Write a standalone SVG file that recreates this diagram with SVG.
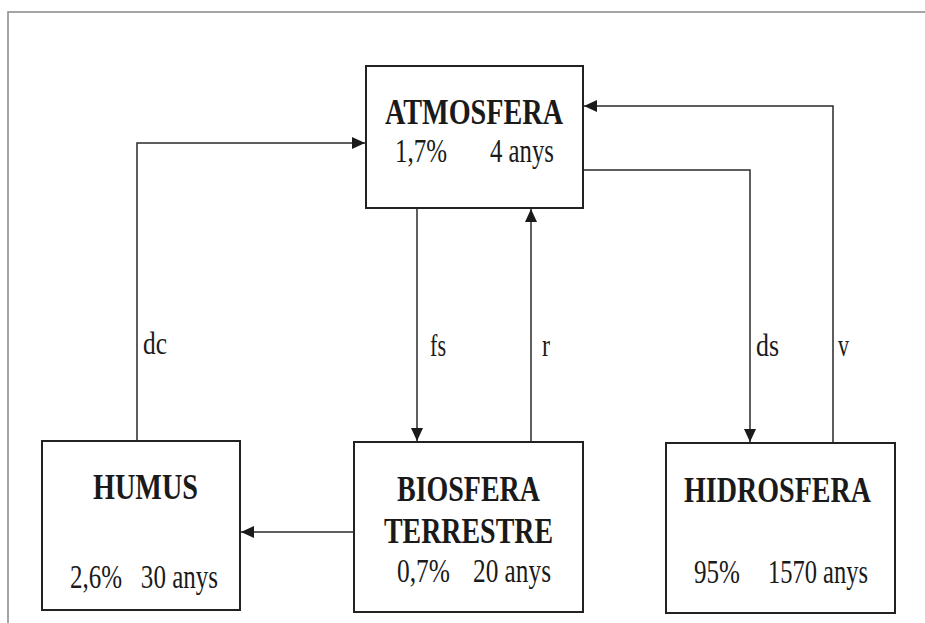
<svg xmlns="http://www.w3.org/2000/svg" width="925" height="623" viewBox="0 0 925 623">
<style>
.box{fill:#fff;stroke:#222;stroke-width:2}
.t{font-family:"Liberation Serif","Times New Roman",serif;font-weight:bold;font-size:36px;fill:#1a1a1a}
.n{font-family:"Liberation Serif","Times New Roman",serif;font-size:34px;fill:#1a1a1a}
.l{font-family:"Liberation Serif","Times New Roman",serif;font-size:32px;fill:#1a1a1a}
.c{fill:none;stroke:#2a2a2a;stroke-width:1.5}
.frame{fill:none;stroke:#888;stroke-width:1.5}
</style>
<defs>
<marker id="ah" markerUnits="userSpaceOnUse" markerWidth="14" markerHeight="12" refX="13" refY="6" orient="auto">
<path d="M0,0 L13,6 L0,12 Z" fill="#1a1a1a"/>
</marker>
</defs>
<rect width="925" height="623" fill="#fff"/>
<path class="frame" d="M8,623 V12 H925"/>
<g id="connectors">
<path class="c" d="M137,441 V143 H365" marker-end="url(#ah)"/>
<path class="c" d="M417,208 V441" marker-end="url(#ah)"/>
<path class="c" d="M531,442 V209" marker-end="url(#ah)"/>
<path class="c" d="M583,170 H750 V442" marker-end="url(#ah)"/>
<path class="c" d="M833,443 V106 H584" marker-end="url(#ah)"/>
<path class="c" d="M354,532 H241" marker-end="url(#ah)"/>
<text class="l" x="143" y="354" textLength="24" lengthAdjust="spacingAndGlyphs">dc</text>
<text class="l" x="430" y="356" textLength="16" lengthAdjust="spacingAndGlyphs">fs</text>
<text class="l" x="542" y="356" textLength="8" lengthAdjust="spacingAndGlyphs">r</text>
<text class="l" x="756" y="356" textLength="23" lengthAdjust="spacingAndGlyphs">ds</text>
<text class="l" x="838" y="356" textLength="11" lengthAdjust="spacingAndGlyphs">v</text>
</g>
<g id="atmosfera">
<rect class="box" x="366" y="66" width="217" height="142"/>
<text class="t" x="385" y="124" textLength="178" lengthAdjust="spacingAndGlyphs">ATMOSFERA</text>
<text class="n" x="395" y="162" textLength="52" lengthAdjust="spacingAndGlyphs">1,7%</text>
<text class="n" x="490" y="162" textLength="64" lengthAdjust="spacingAndGlyphs">4 anys</text>
</g>
<g id="humus">
<rect class="box" x="42" y="441" width="198" height="169"/>
<text class="t" x="93" y="499" textLength="105" lengthAdjust="spacingAndGlyphs">HUMUS</text>
<text class="n" x="70" y="588" textLength="148" lengthAdjust="spacingAndGlyphs" style="white-space:pre">2,6%   30 anys</text>
</g>
<g id="biosfera">
<rect class="box" x="354" y="442" width="229" height="170"/>
<text class="t" x="397" y="501" textLength="143" lengthAdjust="spacingAndGlyphs">BIOSFERA</text>
<text class="t" x="384" y="543" textLength="169" lengthAdjust="spacingAndGlyphs">TERRESTRE</text>
<text class="n" x="397" y="582" textLength="53" lengthAdjust="spacingAndGlyphs">0,7%</text>
<text class="n" x="473" y="582" textLength="78" lengthAdjust="spacingAndGlyphs">20 anys</text>
</g>
<g id="hidrosfera">
<rect class="box" x="666" y="443" width="229" height="170"/>
<text class="t" x="684" y="502" textLength="187" lengthAdjust="spacingAndGlyphs">HIDROSFERA</text>
<text class="n" x="694" y="583" textLength="46" lengthAdjust="spacingAndGlyphs">95%</text>
<text class="n" x="768" y="583" textLength="100" lengthAdjust="spacingAndGlyphs">1570 anys</text>
</g>
</svg>
